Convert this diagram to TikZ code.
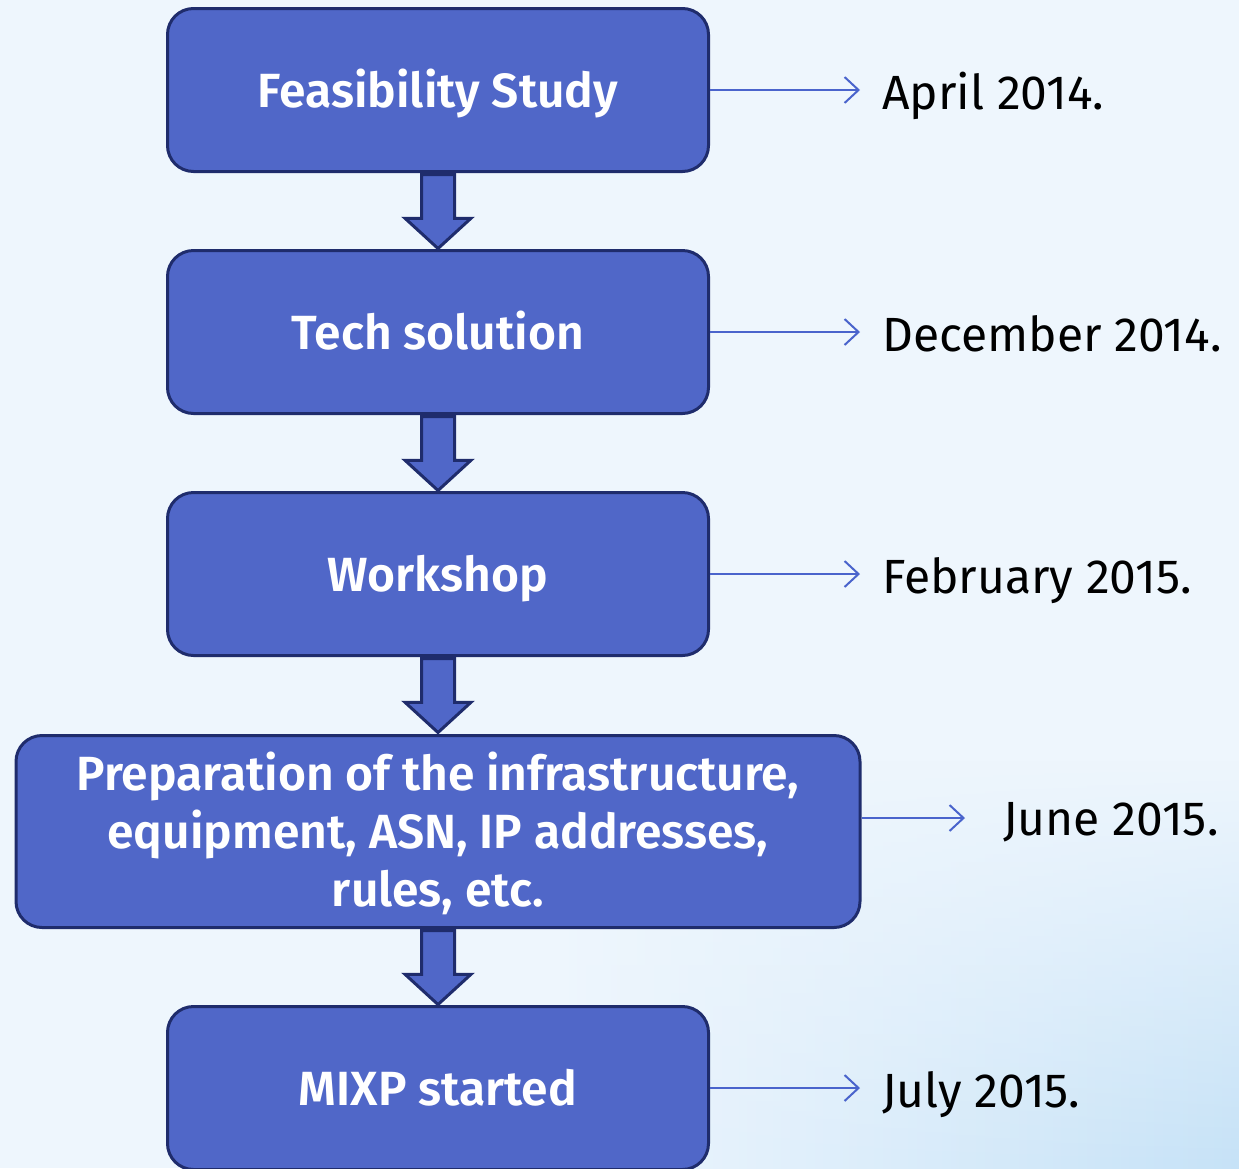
\documentclass[tikz,border=0pt]{standalone}
\usepackage{fontspec}
\setmainfont{Fira Sans}
\newfontfamily\stagefont{Fira Sans SemiBold}
\usetikzlibrary{shapes,arrows.meta,positioning,calc,fadings}
\usepackage{xcolor}

\definecolor{boxfill}{HTML}{5067C8}
\definecolor{boxline}{HTML}{1F2C6C}
\definecolor{linkblue}{HTML}{4A64CC}
\definecolor{bgbase}{HTML}{EEF6FD}
\definecolor{bgblue}{HTML}{C6E2F7}
\definecolor{bgstreak}{HTML}{CDE5F8}

\tikzset{
  stage/.style={draw=boxline, line width=3pt, fill=boxfill, rounded corners=26pt,
    minimum width=541pt, minimum height=163pt, inner sep=0pt, text=white,
    font=\fontsize{48}{58}\selectfont\stagefont, align=center,
    text height=34pt, text depth=0pt},
  downarrow/.style={single arrow, draw=boxline, line width=3pt, fill=boxfill,
    shape border rotate=270, minimum height=74pt, inner sep=15pt,
    single arrow head extend=16.5pt, single arrow tip angle=95, anchor=tail},
  date/.style={anchor=west, inner sep=0pt, font=\fontsize{48}{58}\selectfont,
    text height=34pt, text depth=0pt},
  link/.style={draw=linkblue, line width=2pt, -{Straight Barb[length=14pt,width=26pt]},
    shorten >=22pt}
}

\begin{document}
\begin{tikzpicture}[x=1pt, y=-1pt]
            \useasboundingbox (0,0) rectangle (1239,1168);
            % Background
            \fill[bgbase] (0,0) rectangle (1239,1168);
            \shade[top color=bgbase, middle color=bgstreak, bottom color=bgbase, path fading=east]
              (0,480) rectangle (650,600);
            \shade[top color=bgbase, middle color=bgstreak, bottom color=bgbase, path fading=east]
              (0,580) rectangle (750,700);
            \shade[top color=bgbase, middle color=bgstreak, bottom color=bgbase, path fading=east]
              (0,200) rectangle (450,330);
            \shade[left color=bgbase, right color=bgblue, path fading=north]
              (560,760) rectangle (1239,1168);

            % Stages
            \node[stage] (fs) at (438,90) {Feasibility Study};
            \node[stage] (ts) at (438,332) {Tech solution};
            \node[stage] (ws) at (438,574) {Workshop};
            \node[stage, minimum width=844pt, minimum height=192pt,
                  text height=150pt, text depth=0pt] (prep) at (438,831.5)
              {Preparation of the infrastructure,\\ equipment, ASN, IP addresses,\\ rules, etc.};
            \node[stage] (mixp) at (438,1088) {MIXP started};

            % Block arrows
            \node[downarrow] (a1) at (fs.south) {};
            \node[downarrow] (a2) at (ts.south) {};
            \node[downarrow] (a3) at (ws.south) {};
            \node[downarrow] (a4) at (prep.south) {};

            % Dates
            \node[date] (apr) at (882,92) {April 2014.};
            \node[date] (dec) at (882,334) {December 2014.};
            \node[date] (feb) at (882,576) {February 2015.};
            \node[date] (jun) at (1003,818) {June 2015.};
            \node[date] (jul) at (882,1090) {July 2015.};

            \draw[link] (fs.east) -- (fs.east -| apr.west);
            \draw[link] (ts.east) -- (ts.east -| dec.west);
            \draw[link] (ws.east) -- (ws.east -| feb.west);
            \draw[link, shorten >=38pt] (prep.east |- jun.west) -- (jun.west);
            \draw[link] (mixp.east) -- (mixp.east -| jul.west);
\end{tikzpicture}
\end{document}
